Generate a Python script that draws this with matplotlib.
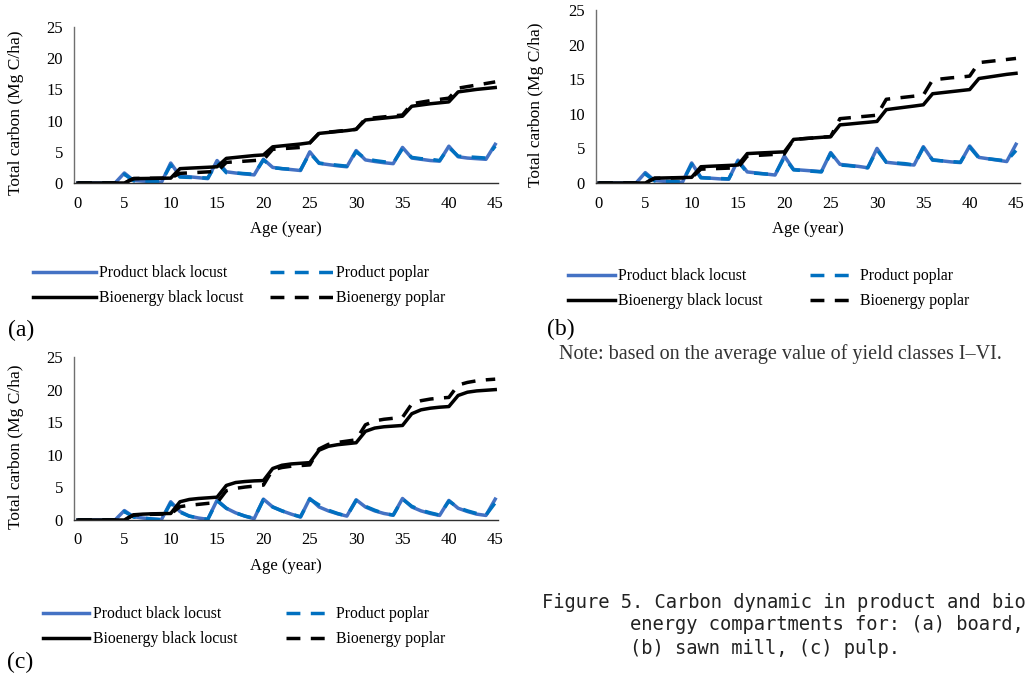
import matplotlib
matplotlib.use("Agg")
import matplotlib.pyplot as plt
import numpy as np

ages = list(range(46))
x_ticks = [0, 5, 10, 15, 20, 25, 30, 35, 40, 45]
y_ticks = [0, 5, 10, 15, 20, 25]
labels = ["Product black locust", "Bioenergy black locust", "Product poplar", "Bioenergy poplar"]

# (a) board
prod_bl_a = [0, 0, 0, 0, 0, 1.6, 0.4, 0.3, 0.2, 0.1, 3.2, 1.1, 1.0, 0.85, 0.7, 3.6, 1.8, 1.6, 1.45, 1.3,
             3.8, 2.5, 2.3, 2.15, 2.0, 5.0, 3.15, 2.95, 2.75, 2.6, 5.2, 3.7, 3.45, 3.25, 3.1, 5.7, 4.0, 3.8,
             3.6, 3.5, 5.9, 4.2, 4.0, 3.9, 3.8, 6.2]
prod_pop_a = [0, 0, 0, 0, 0, 1.4, 0.35, 0.3, 0.25, 0.2, 2.9, 0.95, 0.9, 0.85, 0.8, 3.3, 1.65, 1.6, 1.5, 1.4,
              3.7, 2.45, 2.3, 2.2, 2.1, 4.8, 3.2, 3.0, 2.85, 2.7, 5.0, 3.9, 3.6, 3.4, 3.2, 5.5, 4.1, 3.9,
              3.8, 3.6, 5.7, 4.3, 4.2, 4.1, 4.0, 5.9]
bio_bl_a = [0, 0, 0, 0, 0, 0, 0.7, 0.72, 0.74, 0.76, 0.78, 2.3, 2.38, 2.45, 2.52, 2.6, 3.95, 4.1, 4.25, 4.4,
            4.5, 5.8, 5.95, 6.1, 6.25, 6.45, 7.95, 8.1, 8.25, 8.4, 8.6, 10.1, 10.25, 10.4, 10.55, 10.7, 12.3,
            12.5, 12.7, 12.85, 13.0, 14.6, 14.8, 15.0, 15.15, 15.3]
bio_pop_a = [0, 0, 0, 0, 0, 0, 0.72, 0.74, 0.76, 0.78, 0.8, 1.55, 1.62, 1.7, 1.78, 1.85, 3.3, 3.4, 3.5, 3.6,
             3.7, 5.4, 5.5, 5.6, 5.7, 6.4, 8.0, 8.15, 8.3, 8.45, 8.6, 10.3, 10.45, 10.6, 10.75, 10.9, 12.7,
             12.95, 13.2, 13.4, 13.6, 15.2, 15.45, 15.7, 15.95, 16.2]

# (b) sawn mill
prod_bl_b = [0, 0, 0, 0, 0, 1.5, 0.35, 0.25, 0.15, 0.1, 2.9, 0.8, 0.7, 0.6, 0.55, 3.3, 1.6, 1.45, 1.3, 1.15,
             3.9, 1.95, 1.85, 1.75, 1.65, 4.4, 2.7, 2.55, 2.4, 2.2, 5.0, 3.0, 2.85, 2.7, 2.6, 5.25, 3.3, 3.2,
             3.05, 2.95, 5.35, 3.7, 3.5, 3.3, 3.1, 5.6]
prod_pop_b = [0, 0, 0, 0, 0, 1.3, 0.3, 0.25, 0.2, 0.15, 2.7, 0.75, 0.7, 0.65, 0.6, 3.1, 1.5, 1.4, 1.3, 1.2,
              3.7, 1.9, 1.8, 1.7, 1.6, 4.3, 2.6, 2.5, 2.35, 2.2, 4.8, 3.0, 2.9, 2.8, 2.6, 5.1, 3.35, 3.2,
              3.1, 3.0, 5.2, 3.6, 3.5, 3.35, 3.2, 4.7]
bio_bl_b = [0, 0, 0, 0, 0, 0, 0.7, 0.73, 0.76, 0.79, 0.82, 2.35, 2.42, 2.48, 2.54, 2.6, 4.25, 4.32, 4.38, 4.44,
            4.5, 6.3, 6.4, 6.5, 6.6, 6.7, 8.4, 8.52, 8.65, 8.77, 8.9, 10.6, 10.78, 10.95, 11.12, 11.3, 12.9,
            13.05, 13.2, 13.35, 13.5, 15.1, 15.3, 15.5, 15.7, 15.85]
bio_pop_b = [0, 0, 0, 0, 0, 0, 0.68, 0.7, 0.72, 0.74, 0.76, 2.0, 2.05, 2.1, 2.15, 2.2, 3.9, 3.98, 4.06, 4.14,
             4.2, 6.3, 6.4, 6.5, 6.6, 6.7, 9.3, 9.42, 9.55, 9.67, 9.8, 12.1, 12.25, 12.4, 12.55, 12.7, 14.9,
             15.05, 15.2, 15.3, 15.45, 17.4, 17.55, 17.7, 17.85, 18.0]

# (c) pulp
prod_bl_c = [0, 0, 0, 0, 0, 1.45, 0.5, 0.3, 0.15, 0.05, 2.8, 1.3, 0.6, 0.3, 0.1, 3.05, 1.8, 1.1, 0.6, 0.2,
             3.2, 2.0, 1.4, 0.9, 0.45, 3.3, 2.0, 1.4, 0.95, 0.6, 3.1, 2.0, 1.4, 1.0, 0.75, 3.3, 2.0, 1.4,
             1.0, 0.7, 3.0, 1.8, 1.3, 0.9, 0.7, 3.2]
prod_pop_c = [0, 0, 0, 0, 0, 1.3, 0.45, 0.3, 0.15, 0.05, 2.6, 1.2, 0.6, 0.3, 0.1, 2.95, 1.8, 1.1, 0.6, 0.25,
              3.1, 2.0, 1.4, 0.9, 0.5, 3.2, 2.3, 1.5, 1.0, 0.6, 3.0, 2.1, 1.5, 1.0, 0.75, 3.2, 2.1, 1.5,
              1.1, 0.75, 2.9, 1.9, 1.4, 1.0, 0.75, 2.65]
bio_bl_c = [0, 0, 0, 0, 0, 0, 0.8, 0.9, 0.95, 0.98, 1.0, 2.8, 3.15, 3.3, 3.4, 3.5, 5.3, 5.75, 5.9, 6.0,
            6.05, 7.9, 8.4, 8.6, 8.7, 8.8, 10.7, 11.3, 11.55, 11.7, 11.85, 13.6, 14.1, 14.3, 14.4, 14.5,
            16.3, 16.9, 17.15, 17.3, 17.4, 19.1, 19.6, 19.8, 19.9, 20.0]
bio_pop_c = [0, 0, 0, 0, 0, 0, 0.75, 0.82, 0.87, 0.9, 0.93, 2.05, 2.25, 2.4, 2.55, 2.65, 4.5, 4.85, 5.05, 5.2,
             5.35, 7.7, 8.05, 8.25, 8.35, 8.45, 10.9, 11.6, 11.9, 12.1, 12.3, 14.6, 15.2, 15.45, 15.6, 15.75,
             17.8, 18.3, 18.55, 18.7, 18.8, 20.7, 21.1, 21.35, 21.5, 21.6]

W, H = 1025, 676
fig = plt.figure(figsize=(W / 100, H / 100), dpi=100)
SERIF = "Liberation Serif"

BLUE1 = "#4472C4"
BLUE2 = "#0070C0"
LW = 2.5
LEG_FS = 11.3


def fx(px):
    return px / W


def fy(py):
    return 1 - py / H


def panel(rect_px, xlim, pb, pp, bb, bp, ylab_left, leg_top_left, hlen, hpad, colspace):
    l, t, r, b = rect_px
    ax = fig.add_axes([fx(l), fy(b), (r - l) / W, (b - t) / H])
    h1, = ax.plot(ages, pb, color=BLUE1, lw=LW)
    h3, = ax.plot(ages, pp, color=BLUE2, lw=LW, dashes=(4, 3))
    h2, = ax.plot(ages, bb, color="black", lw=LW)
    h4, = ax.plot(ages, bp, color="black", lw=LW, dashes=(4, 3))
    ax.set_xlim(*xlim)
    ax.set_ylim(0, 25)
    ax.set_xticks(x_ticks)
    ax.set_yticks(y_ticks)
    for s in ["top", "right"]:
        ax.spines[s].set_visible(False)
    ax.spines["left"].set_color("#6f6f6f")
    ax.spines["bottom"].set_color("#303030")
    ax.spines["left"].set_linewidth(1.0)
    ax.spines["bottom"].set_linewidth(1.0)
    ax.tick_params(axis="both", length=0, labelsize=12)
    ax.tick_params(axis="y", pad=8)
    ax.tick_params(axis="x", pad=9)
    for lab in ax.get_xticklabels() + ax.get_yticklabels():
        lab.set_fontfamily(SERIF)
    ax.set_ylabel("Total carbon (Mg C/ha)", fontfamily=SERIF, fontsize=12.5)
    ax.yaxis.set_label_coords((ylab_left - l) / (r - l), 0.45)
    ax.set_xlabel("Age (year)", fontfamily=SERIF, fontsize=12, labelpad=7)
    fig.legend([h1, h2, h3, h4], labels, loc="upper left",
               bbox_to_anchor=(fx(leg_top_left[0]), fy(leg_top_left[1])),
               bbox_transform=fig.transFigure, ncol=2, frameon=False,
               borderpad=0, borderaxespad=0, handlelength=hlen, handletextpad=hpad,
               columnspacing=colspace, labelspacing=0.6,
               prop={"family": SERIF, "size": LEG_FS})
    return ax


panel((74, 27, 498, 183), (-0.43, 45.3), prod_bl_a, prod_pop_a, bio_bl_a, bio_pop_a, 24,
      (33, 265), 4.0, 0.2, 1.7)
panel((596, 10, 1020, 183), (-0.32, 45.43), prod_bl_b, prod_pop_b, bio_bl_b, bio_pop_b, 544,
      (568, 268), 3.0, 0.2, 3.0)
panel((74, 357, 498, 520), (-0.43, 45.3), prod_bl_c, prod_pop_c, bio_bl_c, bio_pop_c, 24,
      (43, 606), 2.93, 0.25, 3.1)

fig.text(fx(8), fy(330), "(a)", fontfamily=SERIF, fontsize=17, va="center", ha="left")
fig.text(fx(547), fy(329), "(b)", fontfamily=SERIF, fontsize=17, va="center", ha="left")
fig.text(fx(7), fy(662), "(c)", fontfamily=SERIF, fontsize=17, va="center", ha="left")

fig.text(fx(559), fy(354), "Note: based on the average value of yield classes I\u2013VI.",
         fontfamily=SERIF, fontsize=14.5, va="center", ha="left", color="#333333")

CAP = "DejaVu Sans Mono"
fig.text(fx(542), fy(602), "Figure 5. Carbon dynamic in product and bio-",
         fontfamily=CAP, fontsize=13.5, va="center", ha="left", color="#222222")
fig.text(fx(630), fy(625), "energy compartments for: (a) board,",
         fontfamily=CAP, fontsize=13.5, va="center", ha="left", color="#222222")
fig.text(fx(630), fy(648), "(b) sawn mill, (c) pulp.",
         fontfamily=CAP, fontsize=13.5, va="center", ha="left", color="#222222")

fig.savefig("out.png", dpi=100)
